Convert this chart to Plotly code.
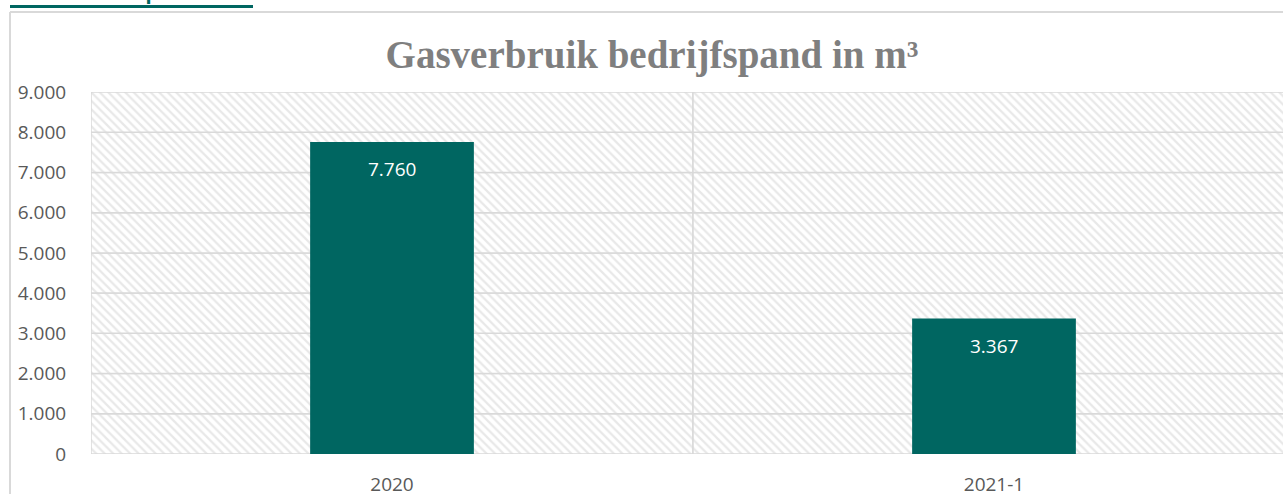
import plotly.graph_objects as go

# ---- data ----
categories = ["2020", "2021-1"]
values = [7760, 3367]
y_ticks = [0, 1000, 2000, 3000, 4000, 5000, 6000, 7000, 8000, 9000]
title_text = "Gasverbruik bedrijfspand in m³"
heading_text = "Gasverbruik pand:"

# ---- geometry (pixels) ----
W, H = 1283, 494
L, T, B = 91, 92, 40
PW = W - L
PH = H - T - B

def px_x(p):
    return (p - L) / PW

def px_y(p):
    return (H - B - p) / PH

teal = "#006661"
grid = "#d9d9d9"
xpos = list(range(len(categories)))

# background hatched cells (decorative), built from tick grid
bg_x, bg_base, bg_h = [], [], []
for i in range(len(y_ticks) - 1):
    for xi in xpos:
        bg_x.append(xi)
        bg_base.append(y_ticks[i])
        bg_h.append(y_ticks[i + 1] - y_ticks[i])

fig = go.Figure()
fig.add_trace(go.Bar(
    x=bg_x, y=bg_h, base=bg_base, width=1,
    marker=dict(color="white",
                line=dict(color=grid, width=1.5),
                pattern=dict(shape="\\", fgcolor="#d2d2d2", bgcolor="white",
                             size=6, solidity=0.38)),
    hoverinfo="skip", showlegend=False,
))
fig.add_trace(go.Bar(
    x=xpos, y=values, width=0.272,
    marker=dict(color=teal, line=dict(width=0)),
    hoverinfo="skip", showlegend=False,
))

for xi, v in zip(xpos, values):
    fig.add_annotation(
        x=xi, y=v, xref="x", yref="y",
        text=f"{v:,}".replace(",", "."),
        showarrow=False, yanchor="middle", yshift=-27,
        font=dict(family="Open Sans", size=19, color="white"),
    )

# heading above chart (partly cut off at the top edge, as in the reference)
fig.add_annotation(
    x=px_x(9), y=px_y(6), xref="paper", yref="paper",
    xanchor="left", yanchor="bottom", showarrow=False,
    text=f"<b>{heading_text}</b>",
    font=dict(family="Liberation Sans", size=22, color=teal),
)
fig.add_shape(type="line", xref="paper", yref="paper",
              x0=px_x(10), x1=px_x(253), y0=px_y(6.5), y1=px_y(6.5),
              line=dict(color=teal, width=3))

# chart border
fig.add_shape(type="line", xref="paper", yref="paper",
              x0=px_x(10), x1=px_x(W + 5), y0=px_y(12), y1=px_y(12),
              line=dict(color=grid, width=2))
fig.add_shape(type="line", xref="paper", yref="paper",
              x0=px_x(10), x1=px_x(10), y0=px_y(12), y1=px_y(H + 5),
              line=dict(color=grid, width=2))

fig.update_layout(
    width=W, height=H,
    margin=dict(l=L, r=0, t=T, b=B, pad=0, autoexpand=False),
    paper_bgcolor="white", plot_bgcolor="white",
    barmode="overlay",
    separators=",.",
    title=dict(text=f"<b>{title_text}</b>", xref="container", yref="container",
               x=652 / W, xanchor="center", y=1 - 54 / H, yanchor="middle",
               font=dict(family="Liberation Serif", size=39, color="#7f7f7f")),
    xaxis=dict(range=[-0.5, 1.5 - 12 / 602], tickvals=xpos, ticktext=categories,
               showgrid=False, zeroline=False, showline=False, automargin=False,
               ticks="outside", ticklen=13, tickcolor="rgba(0,0,0,0)",
               tickfont=dict(family="Open Sans", size=19, color="#595959")),
    yaxis=dict(range=[0, 9000], tickvals=y_ticks, tickformat=",d",
               showgrid=False, zeroline=False, showline=False, automargin=False,
               ticks="outside", ticklen=20, tickcolor="rgba(0,0,0,0)",
               tickfont=dict(family="Open Sans", size=19, color="#595959")),
)

fig.write_html(
    "out.html",
    config={"displayModeBar": False},
    post_script="document.body.style.margin='0';document.body.style.overflow='hidden';",
)
